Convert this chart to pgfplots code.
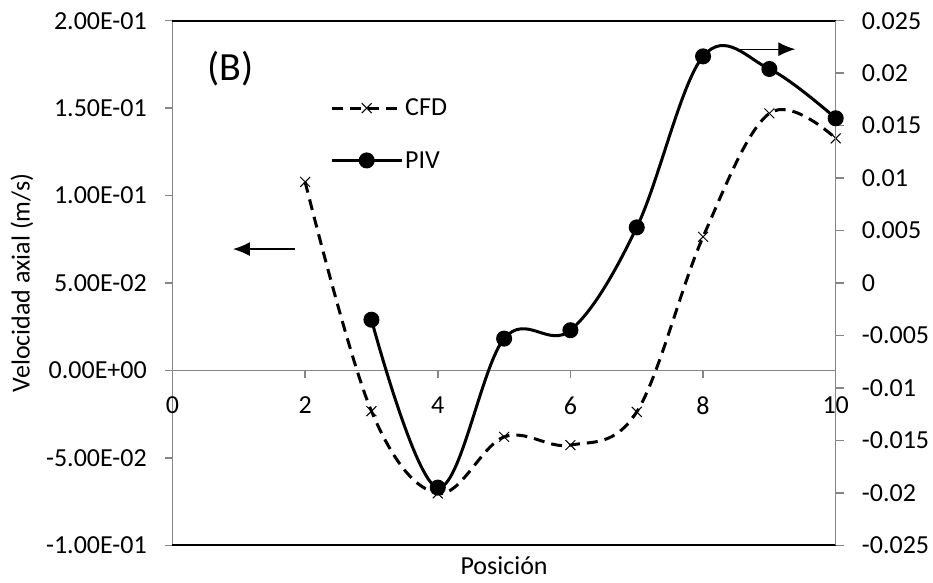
\documentclass[border=0pt]{standalone}
\usepackage{pgfplots}
\pgfplotsset{compat=1.18}
\usepackage{fontspec}
\setmainfont{Carlito}
\usetikzlibrary{arrows.meta}
\definecolor{axgray}{RGB}{134,134,134}
\begin{document}
\begin{tikzpicture}[font=\fontsize{26}{30}\selectfont]
\path[use as bounding box] (-172.5pt,-36.7pt) rectangle (760.5pt,545.3pt);
\begin{axis}[
  scale only axis, width=663.2pt, height=524.6pt,
  at={(0pt,0pt)}, anchor=south west,
  xmin=0, xmax=10, ymin=-0.1, ymax=0.2,
  axis y line*=left, axis x line*=middle,
  hide obscured x ticks=false,
  scaled ticks=false,
  clip=false,
  axis line style={axgray, line width=1.5pt},
  tick style={axgray, line width=1.5pt},
  major tick length=8pt, tick align=outside,
  xtick={0,2,4,6,8,10}, xticklabels={0,2,4,6,8,10},
  ytick={-0.1,-0.05,0,0.05,0.1,0.15,0.2},
  yticklabels={-1.00E-01,-5.00E-02,0.00E+00,5.00E-02,1.00E-01,1.50E-01,2.00E-01},
  yticklabel style={anchor=east, inner sep=0pt, xshift=-17.5pt},
  xticklabel style={anchor=center, inner sep=0pt, yshift=-27pt},
  tick label style={font=\fontsize{26}{30}\selectfont},
  /pgf/number format/assume math mode=true,
]
\addplot[black, line width=3pt, dash pattern=on 11pt off 7pt, smooth, tension=0.6,
  mark=x, mark size=7pt, mark options={solid, line width=1pt}]
  coordinates {(2,0.1078) (3,-0.0233) (4,-0.0703) (5,-0.038) (6,-0.0427) (7,-0.0237) (8,0.0764) (9,0.147) (10,0.1327)};
\draw[black, line width=2pt] (rel axis cs:0,1) -- (rel axis cs:1,1);
\draw[black, line width=2pt] (rel axis cs:0,0) -- (rel axis cs:1,0);
\draw[line width=1.2pt, -{Latex[length=17pt,width=14pt]}] (axis cs:1.847,0.0694) -- (axis cs:0.912,0.0694);
\draw[line width=1.2pt, -{Latex[length=17pt,width=14pt]}] (axis cs:8.51,0.1837) -- (axis cs:9.39,0.1837);
\end{axis}
\begin{axis}[
  scale only axis, width=663.2pt, height=524.6pt,
  at={(0pt,0pt)}, anchor=south west,
  xmin=0, xmax=10, ymin=-0.025, ymax=0.025,
  axis y line*=right, axis x line=none,
  scaled ticks=false,
  clip=false,
  axis line style={axgray, line width=1.5pt},
  tick style={axgray, line width=1.5pt},
  major tick length=8pt, tick align=outside,
  ytick={-0.025,-0.02,-0.015,-0.01,-0.005,0,0.005,0.01,0.015,0.02,0.025},
  yticklabels={-0.025,-0.02,-0.015,-0.01,-0.005,0,0.005,0.01,0.015,0.02,0.025},
  yticklabel style={anchor=west, inner sep=0pt, xshift=18pt},
  tick label style={font=\fontsize{26}{30}\selectfont},
  legend style={draw=none, fill=none, at={(rel axis cs:0.2375,0.855)}, anchor=north west,
    row sep=30pt, font=\fontsize{26}{30}\selectfont, inner sep=0pt},
  legend cell align=left,
  legend image code/.code={\draw[mark repeat=2, mark phase=2, #1] plot coordinates {(0pt,0pt) (35pt,0pt) (70pt,0pt)};},
]
\addlegendimage{black, line width=3pt, dash pattern=on 11pt off 7pt, mark=x, mark size=7pt, mark options={solid, line width=1pt}}
\addlegendentry{CFD}
\addplot[black, line width=3pt, smooth, tension=0.6, mark=*, mark size=6.5pt]
  coordinates {(3,-0.0035) (4,-0.0195) (5,-0.0053) (6,-0.0045) (7,0.0053) (8,0.0216) (9,0.0204) (10,0.0157)};
\addlegendentry{PIV}
\end{axis}
\node[font=\fontsize{40}{46}\selectfont] at (58pt,477pt) {(B)};
\node[rotate=90] at (-150.5pt,262.3pt) {Velocidad axial (m/s)};
\node at (331.6pt,-20.7pt) {Posición};
\end{tikzpicture}
\end{document}
